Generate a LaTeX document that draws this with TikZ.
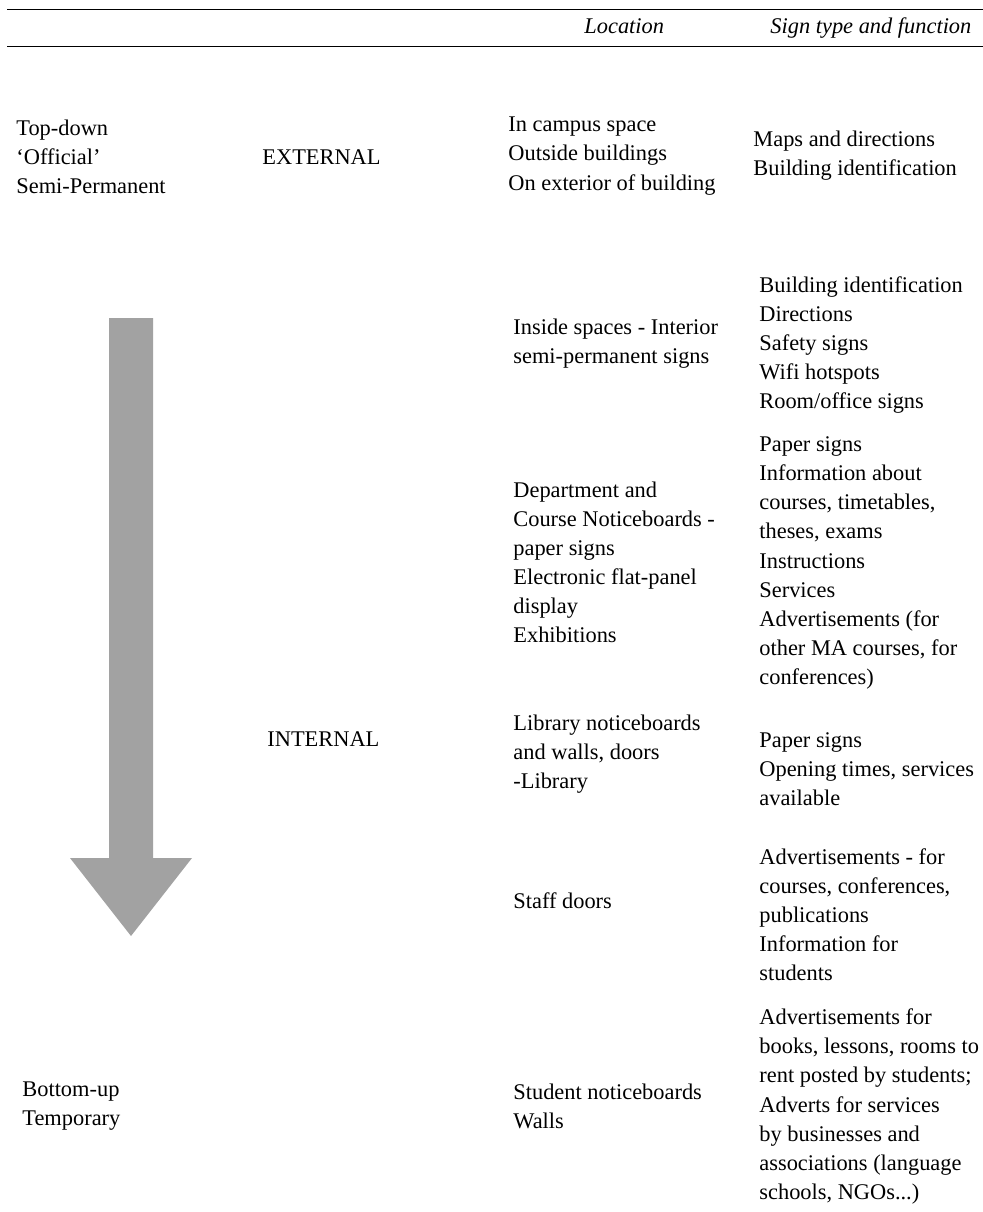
\documentclass[tikz,border=0pt]{standalone}
\usepackage{fontspec}
\setmainfont{Liberation Serif}
\definecolor{arrowgray}{RGB}{162,162,162}

\begin{document}
\begin{tikzpicture}[x=0.5pt, y=-0.5pt,
        cell/.style={anchor=west, align=left, inner sep=0pt,
                     font=\fontsize{11.2}{14.55}\selectfont},
        head/.style={anchor=base west, inner sep=0pt,
                     font=\fontsize{11.2}{14.55}\selectfont\itshape},
        rule/.style={line width=0.6pt},
        bigarrow/.style={fill=arrowgray, draw=none}
    ]
        \useasboundingbox (0,0) rectangle (983,1212);

        % header rules
        \coordinate (topL) at (7,9.5);
        \coordinate (topR) at (983,9.5);
        \coordinate (midL) at (7,46.5);
        \coordinate (midR) at (983,46.5);
        \draw[rule] (topL) -- (topR);
        \draw[rule, line width=0.7pt] (midL) -- (midR);

        \node[head] (loc) at (584,33) {Location};
        \node[head] (func) at (770,33) {Sign type and function};

        % left columns
        \node[cell] (topdown) at (16,157) {Top-down\\`Official'\\Semi-Permanent};
        \node[cell] (bottomup) at (22,1106) {Bottom-up\\Temporary};
        \node[cell] (external) at (262,157) {EXTERNAL};
        \node[cell] (internal) at (267,739) {INTERNAL};

        % location column
        \node[cell] (campus) at (508,156) {In campus space\\Outside buildings\\On exterior of building};
        \node[cell] (inside) at (513,343.5) {Inside spaces - Interior\\semi-permanent signs};
        \node[cell] (dept) at (513,562.5) {Department and\\Course Noticeboards -\\paper signs\\Electronic flat-panel\\display\\Exhibitions};
        \node[cell] (library) at (513,754) {Library noticeboards\\and walls, doors\\-Library};
        \node[cell] (staff) at (513,901) {Staff doors};
        \node[cell] (student) at (513,1106.5) {Student noticeboards\\Walls};

        % sign type column
        \node[cell] (maps) at (753,155.5) {Maps and directions\\Building identification};
        \node[cell] (ident) at (759,345) {Building identification\\Directions\\Safety signs\\Wifi hotspots\\Room/office signs};
        \node[cell] (paper) at (759,563) {Paper signs\\Information about\\courses, timetables,\\theses, exams\\Instructions\\Services\\Advertisements (for\\other MA courses, for\\conferences)};
        \node[cell] (opening) at (759,769) {Paper signs\\Opening times, services\\available};
        \node[cell] (adverts) at (759,915) {Advertisements - for\\courses, conferences,\\publications\\Information for\\students};
        \node[cell] (books) at (759,1106.5) {Advertisements for\\books, lessons, rooms to\\rent posted by students;\\Adverts for services\\by businesses and\\associations (language\\schools, NGOs...)};

        % top-down to bottom-up arrow
        \fill[bigarrow] (109,318) -- (153,318) -- (153,858) -- (192,858)
            -- (131,936) -- (70,858) -- (109,858) -- cycle;
    \end{tikzpicture}
\end{document}
